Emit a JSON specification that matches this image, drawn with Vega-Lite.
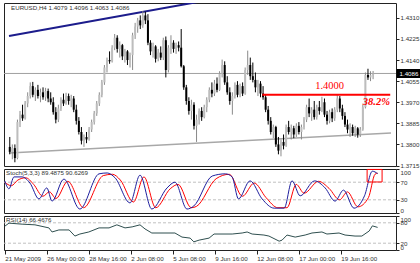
{
"$schema": "https://vega.github.io/schema/vega-lite/v6.json",
"background": "white",
"padding": {"left": 2, "top": 2, "right": 0, "bottom": 0},
"autosize": {"type": "pad"},
"spacing": 3,
"bounds": "flush",
"config": {
  "view": {"stroke": "#222", "strokeWidth": 1},
  "axis": {"labelFont": "Liberation Sans", "labelFontSize": 6.2, "labelColor": "#333", "tickColor": "#222", "domain": false, "grid": false, "tickSize": 3, "labelPadding": 1}
},
"datasets": {
  "one": [{}],
  "candles": [
{"i":0,"o":1.3790,"h":1.3830,"l":1.3760,"c":1.3770},
{"i":1,"o":1.3770,"h":1.3800,"l":1.3740,"c":1.3785},
{"i":2,"o":1.3785,"h":1.3800,"l":1.3728,"c":1.3745},
{"i":3,"o":1.3745,"h":1.3900,"l":1.3740,"c":1.3890},
{"i":4,"o":1.3890,"h":1.3935,"l":1.3870,"c":1.3920},
{"i":5,"o":1.3920,"h":1.3960,"l":1.3895,"c":1.3905},
{"i":6,"o":1.3905,"h":1.3975,"l":1.3900,"c":1.3965},
{"i":7,"o":1.3965,"h":1.4010,"l":1.3950,"c":1.3995},
{"i":8,"o":1.3995,"h":1.4050,"l":1.3985,"c":1.4035},
{"i":9,"o":1.4035,"h":1.4052,"l":1.3990,"c":1.4000},
{"i":10,"o":1.4000,"h":1.4030,"l":1.3975,"c":1.4020},
{"i":11,"o":1.4020,"h":1.4040,"l":1.3985,"c":1.3995},
{"i":12,"o":1.3995,"h":1.4025,"l":1.3970,"c":1.4010},
{"i":13,"o":1.4010,"h":1.4030,"l":1.3980,"c":1.3990},
{"i":14,"o":1.3990,"h":1.4028,"l":1.3975,"c":1.4015},
{"i":15,"o":1.4015,"h":1.4025,"l":1.3970,"c":1.3985},
{"i":16,"o":1.3985,"h":1.4010,"l":1.3960,"c":1.3970},
{"i":17,"o":1.3970,"h":1.3990,"l":1.3920,"c":1.3930},
{"i":18,"o":1.3930,"h":1.3950,"l":1.3885,"c":1.3900},
{"i":19,"o":1.3900,"h":1.3960,"l":1.3890,"c":1.3945},
{"i":20,"o":1.3945,"h":1.3990,"l":1.3935,"c":1.3980},
{"i":21,"o":1.3980,"h":1.4005,"l":1.3955,"c":1.3965},
{"i":22,"o":1.3965,"h":1.4008,"l":1.3960,"c":1.3995},
{"i":23,"o":1.3995,"h":1.4005,"l":1.3960,"c":1.3975},
{"i":24,"o":1.3975,"h":1.4000,"l":1.3950,"c":1.3985},
{"i":25,"o":1.3985,"h":1.3995,"l":1.3930,"c":1.3940},
{"i":26,"o":1.3940,"h":1.3960,"l":1.3880,"c":1.3895},
{"i":27,"o":1.3895,"h":1.3910,"l":1.3840,"c":1.3850},
{"i":28,"o":1.3850,"h":1.3870,"l":1.3800,"c":1.3815},
{"i":29,"o":1.3815,"h":1.3840,"l":1.3790,"c":1.3830},
{"i":30,"o":1.3830,"h":1.3850,"l":1.3805,"c":1.3820},
{"i":31,"o":1.3820,"h":1.3870,"l":1.3815,"c":1.3860},
{"i":32,"o":1.3860,"h":1.3900,"l":1.3850,"c":1.3890},
{"i":33,"o":1.3890,"h":1.3935,"l":1.3880,"c":1.3925},
{"i":34,"o":1.3925,"h":1.3975,"l":1.3915,"c":1.3965},
{"i":35,"o":1.3965,"h":1.4010,"l":1.3955,"c":1.4000},
{"i":36,"o":1.4000,"h":1.4060,"l":1.3990,"c":1.4050},
{"i":37,"o":1.4050,"h":1.4120,"l":1.4040,"c":1.4110},
{"i":38,"o":1.4110,"h":1.4150,"l":1.4090,"c":1.4140},
{"i":39,"o":1.4140,"h":1.4175,"l":1.4125,"c":1.4135},
{"i":40,"o":1.4135,"h":1.4200,"l":1.4130,"c":1.4190},
{"i":41,"o":1.4190,"h":1.4245,"l":1.4180,"c":1.4230},
{"i":42,"o":1.4230,"h":1.4240,"l":1.4170,"c":1.4185},
{"i":43,"o":1.4185,"h":1.4215,"l":1.4150,"c":1.4200},
{"i":44,"o":1.4200,"h":1.4205,"l":1.4140,"c":1.4155},
{"i":45,"o":1.4155,"h":1.4185,"l":1.4130,"c":1.4175},
{"i":46,"o":1.4175,"h":1.4180,"l":1.4120,"c":1.4140},
{"i":47,"o":1.4140,"h":1.4170,"l":1.4110,"c":1.4160},
{"i":48,"o":1.4160,"h":1.4250,"l":1.4100,"c":1.4240},
{"i":49,"o":1.4240,"h":1.4290,"l":1.4225,"c":1.4275},
{"i":50,"o":1.4275,"h":1.4310,"l":1.4250,"c":1.4300},
{"i":51,"o":1.4300,"h":1.4320,"l":1.4265,"c":1.4280},
{"i":52,"o":1.4280,"h":1.4338,"l":1.4270,"c":1.4320},
{"i":53,"o":1.4320,"h":1.4335,"l":1.4285,"c":1.4300},
{"i":54,"o":1.4300,"h":1.4325,"l":1.4200,"c":1.4210},
{"i":55,"o":1.4210,"h":1.4220,"l":1.4160,"c":1.4175},
{"i":56,"o":1.4175,"h":1.4210,"l":1.4150,"c":1.4195},
{"i":57,"o":1.4195,"h":1.4200,"l":1.4130,"c":1.4145},
{"i":58,"o":1.4145,"h":1.4185,"l":1.4135,"c":1.4170},
{"i":59,"o":1.4170,"h":1.4195,"l":1.4140,"c":1.4150},
{"i":60,"o":1.4150,"h":1.4230,"l":1.4140,"c":1.4220},
{"i":61,"o":1.4220,"h":1.4235,"l":1.4070,"c":1.4100},
{"i":62,"o":1.4100,"h":1.4200,"l":1.4090,"c":1.4190},
{"i":63,"o":1.4190,"h":1.4240,"l":1.4165,"c":1.4210},
{"i":64,"o":1.4210,"h":1.4220,"l":1.4170,"c":1.4185},
{"i":65,"o":1.4185,"h":1.4210,"l":1.4165,"c":1.4200},
{"i":66,"o":1.4200,"h":1.4215,"l":1.4175,"c":1.4190},
{"i":67,"o":1.4190,"h":1.4265,"l":1.4110,"c":1.4115},
{"i":68,"o":1.4115,"h":1.4120,"l":1.4020,"c":1.4030},
{"i":69,"o":1.4030,"h":1.4040,"l":1.3960,"c":1.3975},
{"i":70,"o":1.3975,"h":1.3990,"l":1.3920,"c":1.3935},
{"i":71,"o":1.3935,"h":1.3980,"l":1.3900,"c":1.3960},
{"i":72,"o":1.3960,"h":1.3970,"l":1.3860,"c":1.3875},
{"i":73,"o":1.3875,"h":1.3920,"l":1.3810,"c":1.3900},
{"i":74,"o":1.3900,"h":1.3945,"l":1.3880,"c":1.3935},
{"i":75,"o":1.3935,"h":1.3950,"l":1.3895,"c":1.3910},
{"i":76,"o":1.3910,"h":1.3960,"l":1.3905,"c":1.3950},
{"i":77,"o":1.3950,"h":1.3990,"l":1.3930,"c":1.3980},
{"i":78,"o":1.3980,"h":1.4030,"l":1.3970,"c":1.4020},
{"i":79,"o":1.4020,"h":1.4050,"l":1.3990,"c":1.4005},
{"i":80,"o":1.4005,"h":1.4060,"l":1.3995,"c":1.4045},
{"i":81,"o":1.4045,"h":1.4070,"l":1.4010,"c":1.4020},
{"i":82,"o":1.4020,"h":1.4095,"l":1.4015,"c":1.4085},
{"i":83,"o":1.4085,"h":1.4142,"l":1.4070,"c":1.4120},
{"i":84,"o":1.4120,"h":1.4135,"l":1.4040,"c":1.4050},
{"i":85,"o":1.4050,"h":1.4075,"l":1.4000,"c":1.4010},
{"i":86,"o":1.4010,"h":1.4030,"l":1.3960,"c":1.3975},
{"i":87,"o":1.3975,"h":1.4010,"l":1.3920,"c":1.3995},
{"i":88,"o":1.3995,"h":1.4050,"l":1.3985,"c":1.4040},
{"i":89,"o":1.4040,"h":1.4055,"l":1.3990,"c":1.4000},
{"i":90,"o":1.4000,"h":1.4045,"l":1.3990,"c":1.4035},
{"i":91,"o":1.4035,"h":1.4050,"l":1.3995,"c":1.4005},
{"i":92,"o":1.4005,"h":1.4110,"l":1.4000,"c":1.4100},
{"i":93,"o":1.4100,"h":1.4178,"l":1.4080,"c":1.4120},
{"i":94,"o":1.4120,"h":1.4150,"l":1.4060,"c":1.4075},
{"i":95,"o":1.4075,"h":1.4130,"l":1.4050,"c":1.4060},
{"i":96,"o":1.4060,"h":1.4090,"l":1.4010,"c":1.4030},
{"i":97,"o":1.4030,"h":1.4060,"l":1.3995,"c":1.4045},
{"i":98,"o":1.4045,"h":1.4055,"l":1.3990,"c":1.4005},
{"i":99,"o":1.4005,"h":1.4035,"l":1.3980,"c":1.3990},
{"i":100,"o":1.3990,"h":1.4000,"l":1.3930,"c":1.3940},
{"i":101,"o":1.3940,"h":1.3955,"l":1.3880,"c":1.3895},
{"i":102,"o":1.3895,"h":1.3910,"l":1.3840,"c":1.3850},
{"i":103,"o":1.3850,"h":1.3880,"l":1.3825,"c":1.3870},
{"i":104,"o":1.3870,"h":1.3875,"l":1.3790,"c":1.3800},
{"i":105,"o":1.3800,"h":1.3830,"l":1.3760,"c":1.3775},
{"i":106,"o":1.3775,"h":1.3820,"l":1.3752,"c":1.3810},
{"i":107,"o":1.3810,"h":1.3840,"l":1.3780,"c":1.3795},
{"i":108,"o":1.3795,"h":1.3880,"l":1.3790,"c":1.3870},
{"i":109,"o":1.3870,"h":1.3895,"l":1.3840,"c":1.3850},
{"i":110,"o":1.3850,"h":1.3880,"l":1.3820,"c":1.3865},
{"i":111,"o":1.3865,"h":1.3875,"l":1.3825,"c":1.3840},
{"i":112,"o":1.3840,"h":1.3885,"l":1.3830,"c":1.3875},
{"i":113,"o":1.3875,"h":1.3890,"l":1.3840,"c":1.3850},
{"i":114,"o":1.3850,"h":1.3880,"l":1.3820,"c":1.3870},
{"i":115,"o":1.3870,"h":1.3910,"l":1.3860,"c":1.3900},
{"i":116,"o":1.3900,"h":1.3960,"l":1.3890,"c":1.3950},
{"i":117,"o":1.3950,"h":1.3985,"l":1.3910,"c":1.3925},
{"i":118,"o":1.3925,"h":1.3950,"l":1.3895,"c":1.3940},
{"i":119,"o":1.3940,"h":1.3975,"l":1.3900,"c":1.3910},
{"i":120,"o":1.3910,"h":1.3960,"l":1.3900,"c":1.3950},
{"i":121,"o":1.3950,"h":1.3975,"l":1.3920,"c":1.3935},
{"i":122,"o":1.3935,"h":1.3992,"l":1.3930,"c":1.3970},
{"i":123,"o":1.3970,"h":1.3985,"l":1.3910,"c":1.3920},
{"i":124,"o":1.3920,"h":1.3935,"l":1.3880,"c":1.3895},
{"i":125,"o":1.3895,"h":1.3940,"l":1.3885,"c":1.3930},
{"i":126,"o":1.3930,"h":1.3945,"l":1.3890,"c":1.3905},
{"i":127,"o":1.3905,"h":1.3950,"l":1.3895,"c":1.3940},
{"i":128,"o":1.3940,"h":1.4000,"l":1.3930,"c":1.3985},
{"i":129,"o":1.3985,"h":1.3995,"l":1.3930,"c":1.3945},
{"i":130,"o":1.3945,"h":1.3960,"l":1.3900,"c":1.3915},
{"i":131,"o":1.3915,"h":1.3930,"l":1.3870,"c":1.3880},
{"i":132,"o":1.3880,"h":1.3900,"l":1.3845,"c":1.3860},
{"i":133,"o":1.3860,"h":1.3885,"l":1.3830,"c":1.3870},
{"i":134,"o":1.3870,"h":1.3880,"l":1.3835,"c":1.3845},
{"i":135,"o":1.3845,"h":1.3875,"l":1.3830,"c":1.3865},
{"i":136,"o":1.3865,"h":1.3870,"l":1.3827,"c":1.3840},
{"i":137,"o":1.3840,"h":1.3870,"l":1.3830,"c":1.3860},
{"i":138,"o":1.3860,"h":1.3960,"l":1.3855,"c":1.3950},
{"i":139,"o":1.3950,"h":1.4090,"l":1.3945,"c":1.4080},
{"i":140,"o":1.4080,"h":1.4105,"l":1.4060,"c":1.4070},
{"i":141,"o":1.4070,"h":1.4095,"l":1.4055,"c":1.4079},
{"i":142,"o":1.4079,"h":1.4096,"l":1.4063,"c":1.4086}
  ],
  "stochK": [{"i":0,"v":73},{"i":1.6,"v":55},{"i":3.5,"v":82},{"i":6.6,"v":82},{"i":9.6,"v":68},{"i":13,"v":32},{"i":16,"v":57},{"i":18,"v":27},{"i":22.5,"v":77},{"i":28.6,"v":9},{"i":35.9,"v":89},{"i":39,"v":91},{"i":42,"v":80},{"i":47.7,"v":23},{"i":51.5,"v":86},{"i":56,"v":9},{"i":61.8,"v":57},{"i":64.8,"v":70},{"i":69.4,"v":9},{"i":72,"v":16},{"i":79,"v":84},{"i":84,"v":89},{"i":86.6,"v":82},{"i":89,"v":32},{"i":93.4,"v":73},{"i":98,"v":32},{"i":102.6,"v":11},{"i":106.4,"v":11},{"i":109.4,"v":73},{"i":112.5,"v":39},{"i":118,"v":73},{"i":122,"v":57},{"i":125.8,"v":27},{"i":129,"v":52},{"i":133,"v":11},{"i":137,"v":39},{"i":140,"v":95},{"i":142,"v":89.5}],
  "stochD": [{"i":0,"v":70},{"i":2.5,"v":62},{"i":5,"v":75},{"i":8,"v":80},{"i":11,"v":65},{"i":14.5,"v":38},{"i":17,"v":48},{"i":19.5,"v":33},{"i":24,"v":72},{"i":30,"v":12},{"i":37.5,"v":85},{"i":41,"v":88},{"i":44,"v":75},{"i":49,"v":25},{"i":53,"v":82},{"i":57.5,"v":12},{"i":63,"v":55},{"i":66,"v":65},{"i":71,"v":12},{"i":73,"v":15},{"i":80.5,"v":78},{"i":85.5,"v":88},{"i":90.5,"v":38},{"i":95,"v":68},{"i":99.5,"v":35},{"i":104,"v":12},{"i":107.5,"v":12},{"i":111,"v":65},{"i":114,"v":45},{"i":119.5,"v":72},{"i":123.5,"v":56},{"i":127.5,"v":30},{"i":130.5,"v":48},{"i":134.5,"v":14},{"i":138.5,"v":35},{"i":141,"v":88},{"i":142,"v":90.6}],
  "rsi": [{"i":0,"v":70},{"i":1.6,"v":79},{"i":6.6,"v":76},{"i":11.5,"v":74},{"i":16.8,"v":65},{"i":18,"v":53},{"i":20.6,"v":59},{"i":24.5,"v":59},{"i":26.7,"v":41},{"i":28.6,"v":47},{"i":32,"v":53},{"i":35.9,"v":65},{"i":39.7,"v":65},{"i":42.7,"v":74},{"i":45.8,"v":65},{"i":48.5,"v":68},{"i":51.5,"v":74},{"i":53.4,"v":62},{"i":56,"v":50},{"i":64.8,"v":50},{"i":67.5,"v":38},{"i":70.6,"v":35},{"i":72,"v":24},{"i":74,"v":29},{"i":77.8,"v":35},{"i":79.7,"v":47},{"i":86.6,"v":47},{"i":90.4,"v":50},{"i":92.3,"v":53},{"i":94.2,"v":47},{"i":98.7,"v":44},{"i":100.6,"v":41},{"i":104.5,"v":26},{"i":105.6,"v":29},{"i":107.5,"v":44},{"i":110.6,"v":38},{"i":114.4,"v":44},{"i":117,"v":50},{"i":120.8,"v":53},{"i":122.7,"v":47},{"i":127.3,"v":50},{"i":129.6,"v":44},{"i":133.4,"v":41},{"i":136,"v":41},{"i":138.8,"v":56},{"i":140,"v":71},{"i":142,"v":66.5}]
},
"vconcat": [
  {
    "width": 392, "height": 163,
    "layer": [
      {"data": {"name": "one"},
       "mark": {"type": "rule", "color": "#a0a0a0", "strokeWidth": 1},
       "encoding": {"y": {"datum": 1.4086, "type": "quantitative", "scale": {"domain": [1.3713, 1.4370], "nice": false, "zero": false},
         "axis": {"orient": "right", "values": [1.4086], "format": ".4f", "title": null, "tickSize": 24, "tickWidth": 9, "tickColor": "#000", "labelColor": "#fff", "labelPadding": -21, "zindex": 2}}}},
      {"data": {"name": "one"},
       "mark": {"type": "rule", "color": "#a8a8a8", "strokeWidth": 1.5, "clip": true},
       "encoding": {"x": {"datum": -0.3, "type": "quantitative", "scale": {"domain": [-0.3, 149], "nice": false, "zero": false}, "axis": null},
         "x2": {"datum": 149}, "y": {"datum": 1.37655, "type": "quantitative", "axis": null}, "y2": {"datum": 1.38461}}},
      {"data": {"name": "one"},
       "mark": {"type": "rule", "color": "#1c1c8c", "strokeWidth": 2, "clip": true},
       "encoding": {"x": {"datum": -0.3, "type": "quantitative", "axis": null},
         "x2": {"datum": 90}, "y": {"datum": 1.4237, "type": "quantitative", "axis": null}, "y2": {"datum": 1.44048}}},
      {"data": {"name": "candles"},
       "mark": {"type": "rule", "strokeWidth": 1},
       "encoding": {"x": {"field": "i", "type": "quantitative", "axis": null},
         "y": {"field": "l", "type": "quantitative", "axis": {"orient": "right", "values": [1.4310, 1.4225, 1.4140, 1.4055, 1.3970, 1.3885, 1.3800, 1.3715], "format": ".4f", "title": null, "labelOverlap": false}},
         "y2": {"field": "h"},
         "color": {"condition": {"test": "datum.c >= datum.o", "value": "#8a8a8a"}, "value": "#000000"}}},
      {"data": {"name": "candles"},
       "mark": {"type": "bar", "size": 2},
       "encoding": {"x": {"field": "i", "type": "quantitative", "axis": null},
         "y": {"field": "o", "type": "quantitative", "axis": null},
         "y2": {"field": "c"},
         "color": {"condition": {"test": "datum.c >= datum.o", "value": "#bdbdbd"}, "value": "#000000"}}},
      {"data": {"name": "one"},
       "mark": {"type": "rule", "color": "#ff0000", "strokeWidth": 2},
       "encoding": {"x": {"datum": 98.7, "type": "quantitative", "axis": null}, "x2": {"datum": 148.7},
         "y": {"datum": 1.4000, "type": "quantitative", "axis": null}}},
      {"data": {"name": "one"},
       "mark": {"type": "text", "color": "#ff0000", "font": "Liberation Serif", "fontSize": 10.5, "align": "center", "baseline": "middle"},
       "encoding": {"x": {"datum": 125, "type": "quantitative", "axis": null}, "y": {"datum": 1.4035, "type": "quantitative", "axis": null}, "text": {"value": "1.4000"}}},
      {"data": {"name": "one"},
       "mark": {"type": "text", "color": "#ff0000", "font": "Liberation Serif", "fontSize": 10.5, "fontStyle": "italic", "fontWeight": "bold", "align": "right", "baseline": "middle"},
       "encoding": {"x": {"datum": 148.6, "type": "quantitative", "axis": null}, "y": {"datum": 1.3971, "type": "quantitative", "axis": null}, "text": {"value": "38.2%"}}},
      {"data": {"name": "one"},
       "mark": {"type": "text", "color": "#333", "font": "Liberation Sans", "fontSize": 6.2, "align": "left", "baseline": "middle"},
       "encoding": {"x": {"datum": 0.5, "type": "quantitative", "axis": null}, "y": {"datum": 1.4350, "type": "quantitative", "axis": null}, "text": {"value": "EURUSD,H4  1.4079 1.4096 1.4063 1.4086"}}}
    ],
    "resolve": {"axis": {"y": "independent", "x": "independent"}}
  },
  {
    "width": 392, "height": 44,
    "layer": [
      {"data": {"values": [{"lv": 70}, {"lv": 30}]},
       "mark": {"type": "rule", "color": "#c0c0c0", "strokeDash": [3, 2]},
       "encoding": {"y": {"field": "lv", "type": "quantitative", "scale": {"domain": [0, 100], "nice": false}, "axis": {"orient": "right", "values": [0, 30, 70, 100], "title": null, "labelFlush": true, "labelOverlap": false}}}},
      {"data": {"name": "stochD"},
       "mark": {"type": "line", "color": "#ff0000", "strokeWidth": 1, "interpolate": "monotone"},
       "encoding": {"x": {"field": "i", "type": "quantitative", "scale": {"domain": [-0.3, 149], "nice": false, "zero": false}, "axis": null},
         "y": {"field": "v", "type": "quantitative", "axis": null}}},
      {"data": {"name": "stochK"},
       "mark": {"type": "line", "color": "#1f1f9e", "strokeWidth": 1, "interpolate": "monotone"},
       "encoding": {"x": {"field": "i", "type": "quantitative", "axis": null},
         "y": {"field": "v", "type": "quantitative", "axis": null}}},
      {"data": {"name": "one"},
       "mark": {"type": "rect", "fill": null, "stroke": "#ff0000", "strokeWidth": 1},
       "encoding": {"x": {"datum": 138, "type": "quantitative", "axis": null}, "x2": {"datum": 143.7},
         "y": {"datum": 99, "type": "quantitative", "axis": null}, "y2": {"datum": 70.5}}},
      {"data": {"name": "one"},
       "mark": {"type": "text", "color": "#333", "font": "Liberation Sans", "fontSize": 6.2, "align": "left", "baseline": "middle"},
       "encoding": {"x": {"datum": 0.5, "type": "quantitative", "axis": null}, "y": {"datum": 90, "type": "quantitative", "axis": null}, "text": {"value": "Stoch(5,3,3) 89.4875 90.6269"}}}
    ],
    "resolve": {"axis": {"y": "independent", "x": "independent"}}
  },
  {
    "width": 392, "height": 34,
    "layer": [
      {"data": {"values": [{"lv": 80}, {"lv": 20}]},
       "mark": {"type": "rule", "color": "#c0c0c0", "strokeDash": [3, 2]},
       "encoding": {"y": {"field": "lv", "type": "quantitative", "scale": {"domain": [0, 100], "nice": false}, "axis": {"orient": "right", "values": [0, 20, 80, 100], "title": null, "labelFlush": true, "labelOverlap": false}}}},
      {"data": {"name": "rsi"},
       "mark": {"type": "line", "color": "#2f4f4f", "strokeWidth": 1},
       "encoding": {"x": {"field": "i", "type": "quantitative", "scale": {"domain": [-0.3, 149], "nice": false, "zero": false},
           "axis": {"values": [0, 16, 32, 48, 64, 80, 96, 112, 128], "title": null, "tickSize": 4, "labelPadding": 1, "labelAlign": "left", "labelFlush": false, "labelOverlap": false, "labelBound": false,
             "labelExpr": "['21 May 2009','26 May 00:00','28 May 16:00','2 Jun 08:00','5 Jun 08:00','9 Jun 16:00','12 Jun 08:00','17 Jun 00:00','19 Jun 16:00'][round(datum.value/16)]"}},
         "y": {"field": "v", "type": "quantitative", "axis": null}}},
      {"data": {"name": "one"},
       "mark": {"type": "text", "color": "#333", "font": "Liberation Sans", "fontSize": 6.2, "align": "left", "baseline": "middle"},
       "encoding": {"x": {"datum": 0.5, "type": "quantitative", "axis": null}, "y": {"datum": 87, "type": "quantitative", "axis": null}, "text": {"value": "RSI(14) 66.4676"}}}
    ],
    "resolve": {"axis": {"y": "independent", "x": "independent"}}
  }
]
}
